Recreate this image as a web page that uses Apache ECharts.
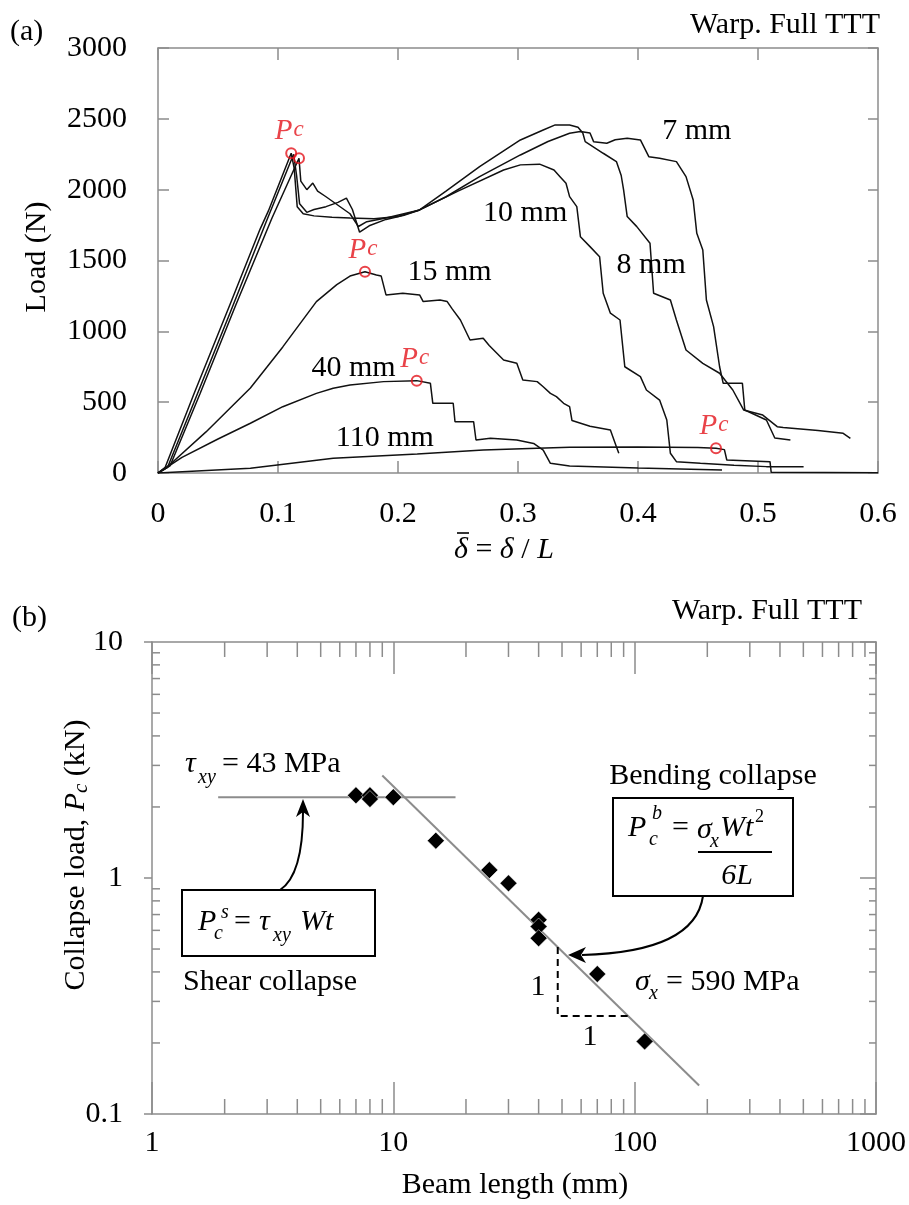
<!DOCTYPE html>
<html>
<head>
<meta charset="utf-8">
<script src="https://cdn.jsdelivr.net/npm/echarts@6/dist/echarts.min.js"></script>
<style>
html,body{margin:0;padding:0;background:#fff}
#chart{width:909px;height:1205px}
</style>
</head>
<body>
<div id="chart"></div>
<script>
// ---------- (a) load vs normalised deflection, warp direction ----------
const load7mm = [
  [0,0],[0.006,40],[0.03,560],[0.06,1190],[0.085,1720],[0.092,1850],[0.111,2257],
  [0.1135,2150],[0.116,1880],[0.121,1830],[0.13,1815],[0.145,1805],[0.16,1800],[0.18,1795],[0.2,1810],[0.218,1857],
  [0.24,1950],[0.268,2092],[0.302,2245],[0.325,2340],[0.343,2398],[0.352,2410],[0.36,2400],[0.363,2339],
  [0.374,2328],[0.381,2352],[0.391,2363],[0.402,2351],[0.409,2233],[0.418,2222],[0.432,2198],[0.44,2092],
  [0.446,1927],[0.449,1692],[0.454,1574],[0.457,1221],[0.463,1033],[0.468,750],[0.471,633],[0.487,633],
  [0.489,445],[0.507,374],[0.514,247],[0.527,233]
];
const load8mm = [
  [0,0],[0.008,40],[0.03,500],[0.06,1130],[0.09,1770],[0.113,2250],
  [0.1155,2100],[0.118,1900],[0.124,1840],[0.13,1860],[0.14,1880],[0.15,1910],[0.157,1940],[0.162,1860],
  [0.168,1700],[0.176,1745],[0.19,1790],[0.205,1820],[0.218,1857],
  [0.24,1990],[0.268,2162],[0.302,2351],[0.321,2421],[0.331,2457],[0.343,2457],[0.35,2440],[0.354,2400],
  [0.356,2339],[0.371,2257],[0.382,2198],[0.386,2100],[0.388,1998],[0.391,1810],[0.399,1739],[0.41,1622],
  [0.413,1269],[0.427,1221],[0.432,1080],[0.44,868],[0.454,774],[0.468,704],[0.479,586],[0.488,445],
  [0.504,409],[0.516,327],[0.521,322],[0.55,300],[0.571,280],[0.577,245]
];
const load10mm = [
  [0,0],[0.01,50],[0.035,560],[0.065,1190],[0.095,1800],[0.1175,2222],
  [0.119,2060],[0.124,2000],[0.129,2047],[0.133,1990],[0.14,1950],[0.15,1890],[0.16,1830],[0.167,1740],
  [0.174,1774],[0.19,1800],[0.218,1857],[0.25,1990],[0.288,2139],[0.302,2175],[0.318,2180],[0.33,2139],
  [0.335,2092],[0.34,2045],[0.343,1951],[0.349,1880],[0.352,1668],[0.36,1598],[0.368,1527],[0.371,1269],
  [0.377,1128],[0.385,1080],[0.389,750],[0.402,680],[0.407,586],[0.418,515],[0.424,374],[0.427,139],
  [0.432,80],[0.452,68],[0.48,55],[0.507,45],[0.538,45]
];
const load15mm = [
  [0,0],[0.01,60],[0.04,290],[0.077,600],[0.104,890],[0.132,1210],[0.149,1330],[0.16,1390],[0.1725,1420],
  [0.182,1398],[0.186,1390],[0.19,1257],[0.204,1269],[0.218,1257],[0.221,1210],[0.235,1221],[0.241,1210],
  [0.245,1160],[0.252,1080],[0.26,939],[0.271,951],[0.276,900],[0.288,798],[0.299,774],[0.304,657],
  [0.316,645],[0.321,609],[0.327,562],[0.332,539],[0.338,492],[0.343,468],[0.345,370],[0.36,330],
  [0.377,303],[0.382,186],[0.384,139]
];
const load40mm = [
  [0,0],[0.02,110],[0.05,240],[0.077,351],[0.104,468],[0.132,562],[0.146,598],[0.16,621],[0.188,645],
  [0.2156,652],[0.227,633],[0.229,492],[0.246,492],[0.2475,362],[0.263,362],[0.265,233],[0.277,245],
  [0.299,233],[0.313,209],[0.321,162],[0.327,68],[0.343,49],[0.4,35],[0.47,21]
];
const load110mm = [
  [0,0],[0.077,33],[0.146,104],[0.216,134],[0.271,162],[0.316,174],[0.343,181],[0.4,184],[0.45,180],
  [0.465,174],[0.472,165],[0.474,92],[0.51,80],[0.511,5],[0.6,2]
];
const curveNames = ['7 mm', '8 mm', '10 mm', '15 mm', '40 mm', '110 mm'];
const curveLabelAt = [[0.449,2414],[0.411,1468],[0.306,1835],[0.243,1419],[0.163,741],[0.189,247]];
// collapse loads P_c marked on the curves
const collapsePoints = [[0.111,2257],[0.1175,2222],[0.1725,1420],[0.2156,652],[0.465,174]];
const collapseLabelShown = [true, false, true, true, true];

// ---------- (b) collapse load vs beam length ----------
const beamLength   = [7, 8, 8, 10, 15, 25, 30, 40, 40, 40, 70, 110];
const collapseLoad = [2.24, 2.24, 2.16, 2.2, 1.44, 1.08, 0.95, 0.665, 0.623, 0.556, 0.392, 0.203];
const shearFit     = [[1.88, 2.2], [18.1, 2.2]];
const bendingFit   = [[9, 2.72], [185, 0.132]];
const slopeTriangle = [[48, 0.51], [48, 0.26], [94, 0.26]];
const logMinorX = [2,3,4,5,6,7,8,9,20,30,40,50,60,70,80,90,200,300,400,500,600,700,800,900];
const logMinorY = [0.2,0.3,0.4,0.5,0.6,0.7,0.8,0.9,2,3,4,5,6,7,8,9];

const FONT = '"Liberation Serif", "Times New Roman", serif';
const GRAY = '#8c8c8c';
const INK = '#000';
const RED = '#e3141c';

const chart = echarts.init(document.getElementById('chart'), null, {renderer: 'canvas'});

const axisLine = {show: true, onZero: false, lineStyle: {color: GRAY, width: 1.5}};
const tickStyle = {color: GRAY, width: 1.5};
const labelFont = {fontFamily: FONT, fontSize: 30, color: INK};
const numFmt = v => String(+(+v).toPrecision(3));

const curveSeries = [load7mm, load8mm, load10mm, load15mm, load40mm, load110mm].map((d, i) => ({
  name: curveNames[i], type: 'line', xAxisIndex: 0, yAxisIndex: 0, data: d,
  symbol: 'none', lineStyle: {color: '#111', width: 1.5}, silent: true, z: 3
}));

// log-axis minor ticks (2..9 in each decade), drawn inward on all four sides
function minorTickItem(kind, len) {
  return function (params, api) {
    const v = api.value(kind === 'x' ? 0 : 1);
    const style = {stroke: GRAY, lineWidth: 1.5};
    if (kind === 'x') {
      const b = api.coord([v, 0.1]);
      const t = api.coord([v, 10]);
      return {type: 'group', children: [
        {type: 'line', shape: {x1: b[0], y1: b[1], x2: b[0], y2: b[1] - len}, style},
        {type: 'line', shape: {x1: t[0], y1: t[1], x2: t[0], y2: t[1] + len}, style}
      ]};
    }
    const l = api.coord([1, v]);
    const r = api.coord([1000, v]);
    return {type: 'group', children: [
      {type: 'line', shape: {x1: l[0], y1: l[1], x2: l[0] + len, y2: l[1]}, style},
      {type: 'line', shape: {x1: r[0], y1: r[1], x2: r[0] - len + 1, y2: r[1]}, style}
    ]};
  };
}

function txt(text, x, y, size, opt) {
  opt = opt || {};
  const font = (opt.italic ? 'italic ' : '') + size + 'px ' + FONT;
  const align = opt.align || 'left';
  return {
    type: 'text', x: x, y: y, rotation: opt.rotation || 0, z: 100,
    style: Object.assign({
      text: text, font: font, fill: INK,
      align: align, verticalAlign: 'middle',
      textAlign: align, textVerticalAlign: 'middle'
    }, opt.style || {})
  };
}

const richBase = {
  n: {fontFamily: FONT, fontSize: 30, color: INK},
  i: {fontFamily: FONT, fontSize: 30, fontStyle: 'italic', color: INK},
  s: {fontFamily: FONT, fontSize: 21, fontStyle: 'italic', color: INK, padding: [10, 0, 0, 0]}
};

const graphics = [
  txt('(a)', 10, 32, 30),
  txt('Warp. Full TTT', 880, 25, 30, {align: 'right'}),
  txt('Load (N)', 37, 257, 30, {align: 'center', rotation: Math.PI / 2}),
  txt('{i|\u03b4}{n| = }{i|\u03b4}{n| / }{i|L}', 454, 550, 30, {style: {rich: richBase}}),
  {type: 'line', z: 100, shape: {x1: 457, y1: 533, x2: 469, y2: 533}, style: {stroke: INK, lineWidth: 1.6}},
  txt('(b)', 12, 618, 30),
  txt('Warp. Full TTT', 862, 611, 30, {align: 'right'}),
  txt('{n|Collapse load, }{i|P}{s|c}{n| (kN)}', 76, 855, 30,
      {align: 'center', rotation: Math.PI / 2, style: {rich: richBase}}),
  txt('Beam length (mm)', 515, 1185, 30, {align: 'center'}),

  // shear-collapse annotation
  txt('\u03c4', 185, 764, 30, {italic: true}),
  txt('xy', 198, 778, 20, {italic: true}),
  txt('= 43 MPa', 222, 764, 30),
  {type: 'rect', z: 100, shape: {x: 182, y: 890, width: 193, height: 66},
   style: {fill: 'none', stroke: INK, lineWidth: 2}},
  txt('P', 198, 922, 30, {italic: true}),
  txt('s', 221, 913, 20, {italic: true}),
  txt('c', 214, 934, 20, {italic: true}),
  txt('=', 234, 922, 30),
  txt('\u03c4', 259, 922, 30, {italic: true}),
  txt('xy', 273, 936, 20, {italic: true}),
  txt('Wt', 300, 922, 30, {italic: true}),
  txt('Shear collapse', 183, 982, 30),
  {type: 'bezierCurve', z: 100, shape: {x1: 280, y1: 890, cpx1: 303, cpy1: 875, x2: 303, y2: 812},
   style: {fill: 'none', stroke: INK, lineWidth: 2}},
  {type: 'polygon', z: 100, shape: {points: [[303, 799], [296, 817], [303, 812], [310, 817]]},
   style: {fill: INK}},

  // bending-collapse annotation
  txt('Bending collapse', 713, 776, 30, {align: 'center'}),
  {type: 'rect', z: 100, shape: {x: 613, y: 798, width: 180, height: 98},
   style: {fill: 'none', stroke: INK, lineWidth: 2}},
  txt('P', 628, 828, 30, {italic: true}),
  txt('b', 652, 814, 20, {italic: true}),
  txt('c', 649, 840, 20, {italic: true}),
  txt('=', 672, 828, 30),
  txt('\u03c3', 697, 830, 30, {italic: true}),
  txt('x', 710, 842, 20, {italic: true}),
  txt('Wt', 720, 828, 30, {italic: true}),
  txt('2', 755, 817, 18),
  {type: 'line', z: 100, shape: {x1: 698, y1: 852, x2: 772, y2: 852}, style: {stroke: INK, lineWidth: 2}},
  txt('6L', 737, 876, 30, {italic: true, align: 'center'}),
  {type: 'bezierCurve', z: 100, shape: {x1: 703, y1: 896, cpx1: 695, cpy1: 952, x2: 582, y2: 955},
   style: {fill: 'none', stroke: INK, lineWidth: 2}},
  {type: 'polygon', z: 100, shape: {points: [[568, 955], [586, 947], [581, 955], [586, 963]]},
   style: {fill: INK}},
  txt('\u03c3', 635, 982, 30, {italic: true}),
  txt('x', 649, 994, 20, {italic: true}),
  txt('= 590 MPa', 666, 982, 30),
  txt('1', 538, 987, 30, {align: 'center'}),
  txt('1', 590, 1037, 30, {align: 'center'})
];

const option = {
  animation: false,
  backgroundColor: '#fff',
  grid: [
    {left: 158, top: 48, width: 720, height: 425},
    {left: 152, top: 642, width: 724, height: 472}
  ],
  xAxis: [
    {gridIndex: 0, type: 'value', min: 0, max: 0.6, interval: 0.1, position: 'bottom',
     axisLine: axisLine, axisTick: {inside: true, length: 12, lineStyle: tickStyle},
     axisLabel: Object.assign({margin: 26, formatter: numFmt}, labelFont), splitLine: {show: false}},
    {gridIndex: 0, type: 'value', min: 0, max: 0.6, interval: 0.1, position: 'top',
     axisLine: axisLine, axisTick: {inside: true, length: 12, lineStyle: tickStyle},
     axisLabel: {show: false}, splitLine: {show: false}},
    {gridIndex: 1, type: 'log', logBase: 10, min: 1, max: 1000, position: 'bottom',
     axisLine: axisLine, axisTick: {inside: true, length: 32, lineStyle: tickStyle},
     axisLabel: Object.assign({margin: 14, formatter: numFmt}, labelFont), splitLine: {show: false}},
    {gridIndex: 1, type: 'log', logBase: 10, min: 1, max: 1000, position: 'top',
     axisLine: axisLine, axisTick: {inside: true, length: 32, lineStyle: tickStyle},
     axisLabel: {show: false}, splitLine: {show: false}}
  ],
  yAxis: [
    {gridIndex: 0, type: 'value', min: 0, max: 3000, interval: 500, position: 'left',
     axisLine: axisLine, axisTick: {inside: true, length: 11, lineStyle: tickStyle},
     axisLabel: Object.assign({margin: 31, formatter: numFmt}, labelFont), splitLine: {show: false}},
    {gridIndex: 0, type: 'value', min: 0, max: 3000, interval: 500, position: 'right',
     axisLine: axisLine, axisTick: {inside: true, length: 10, lineStyle: tickStyle},
     axisLabel: {show: false}, splitLine: {show: false}},
    {gridIndex: 1, type: 'log', logBase: 10, min: 0.1, max: 10, position: 'left',
     axisLine: axisLine, axisTick: {inside: false, length: 8, lineStyle: tickStyle},
     axisLabel: Object.assign({margin: 29, formatter: numFmt}, labelFont), splitLine: {show: false}},
    {gridIndex: 1, type: 'log', logBase: 10, min: 0.1, max: 10, position: 'right',
     axisLine: axisLine, axisTick: {inside: true, length: 16, lineStyle: tickStyle},
     axisLabel: {show: false}, splitLine: {show: false}}
  ],
  series: curveSeries.concat([
    {
      type: 'scatter', xAxisIndex: 0, yAxisIndex: 0, symbolSize: 0, silent: true, z: 4,
      itemStyle: {color: INK},
      data: curveNames.map((n, i) => ({name: n, value: curveLabelAt[i]})),
      label: {show: true, position: 'inside', formatter: '{b}', fontFamily: FONT, fontSize: 30,
              color: INK, textBorderWidth: 0, opacity: 1}
    },
    {
      type: 'scatter', xAxisIndex: 0, yAxisIndex: 0, symbol: 'circle', symbolSize: 10, silent: true, z: 5,
      itemStyle: {color: 'rgba(255,255,255,0)', borderColor: RED, borderWidth: 2},
      data: collapsePoints.map((p, i) => ({
        value: p,
        label: {show: collapseLabelShown[i]}
      })),
      label: {
        position: 'top', distance: 1, offset: [-2, 0],
        formatter: '{p|P}{c|c}',
        rich: {
          p: {fontFamily: FONT, fontSize: 29, fontStyle: 'italic', color: RED},
          c: {fontFamily: FONT, fontSize: 23, fontStyle: 'italic', color: RED, padding: [0, 0, 3, 1]}
        }
      }
    },
    {
      type: 'line', xAxisIndex: 2, yAxisIndex: 2, data: shearFit, symbol: 'none', silent: true, z: 2,
      lineStyle: {color: GRAY, width: 2}
    },
    {
      type: 'line', xAxisIndex: 2, yAxisIndex: 2, data: bendingFit, symbol: 'none', silent: true, z: 2,
      lineStyle: {color: GRAY, width: 2}
    },
    {
      type: 'line', xAxisIndex: 2, yAxisIndex: 2, data: slopeTriangle, symbol: 'none', silent: true, z: 2,
      lineStyle: {color: INK, width: 2, type: [7, 5]}
    },
    {
      type: 'scatter', xAxisIndex: 2, yAxisIndex: 2, symbol: 'diamond', symbolSize: 17, silent: true, z: 5,
      itemStyle: {color: '#000', opacity: 1, borderColor: '#fff', borderWidth: 0.5},
      data: beamLength.map((L, i) => [L, collapseLoad[i]])
    },
    {
      type: 'custom', xAxisIndex: 2, yAxisIndex: 2, silent: true, z: 6,
      renderItem: minorTickItem('x', 15),
      data: logMinorX.map(v => [v, 1])
    },
    {
      type: 'custom', xAxisIndex: 2, yAxisIndex: 2, silent: true, z: 6,
      renderItem: minorTickItem('y', 8),
      data: logMinorY.map(v => [10, v])
    }
  ]),
  graphic: graphics
};

chart.setOption(option);
</script>
</body>
</html>
